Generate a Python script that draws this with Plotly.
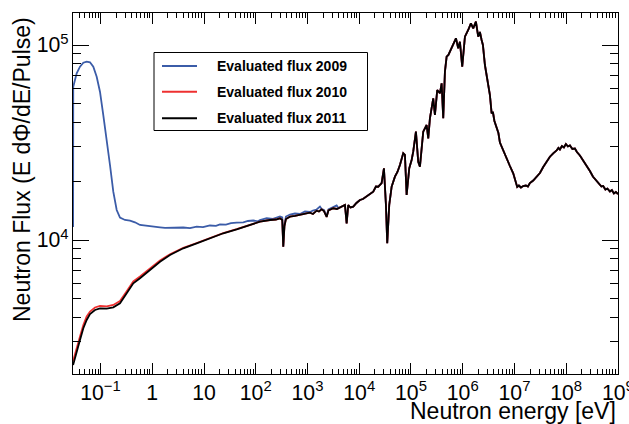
import plotly.graph_objects as go

# ---- Evaluated neutron flux (E dPhi/dE per pulse) vs. neutron energy [eV] ----

# 2009 evaluation, thermal/epithermal part
E_2009_LOW = [0.0295, 0.0297, 0.0346, 0.0401, 0.0465, 0.0540, 0.0626, 0.0725, 0.0843, 0.0976,
              0.1131, 0.1316, 0.1524, 0.1765, 0.2053, 0.2378, 0.2971, 0.371, 0.4634, 0.579,
              0.78, 1.033, 1.41, 1.762, 2.2, 2.873, 3.98, 5.355, 7.22, 9.55,
              13.04, 17.03, 20.35, 26.58, 33.2, 42.8, 57.4, 70.7, 89.6, 110.4]
F_2009_LOW = [11660, 61130, 71580, 77390, 81140, 82110, 81530, 77390, 68760, 57610,
              43750, 33220, 24245, 17690, 14250, 13016, 12664, 12560, 12325, 11940,
              11800, 11690, 11620, 11550, 11560, 11480, 11590, 11497, 11703, 11630,
              11870, 11825, 12036, 11995, 12196, 12265, 12325, 12515, 12590, 12470]

# 2009 evaluation, 100 eV - 4 keV
E_2009_MID = [120.6, 162.6, 215.1, 293.8, 325.4, 340.2, 358.9, 383.6, 458.4, 572.7,
              715.3, 893.6, 1116, 1276, 1504, 1742, 1878, 2081, 2347, 2542,
              3148, 3662, 3967]
F_2009_MID = [12664, 12924, 12845, 13200, 13050, 9239, 12080, 13200, 13510, 13670,
              13590, 14000, 13920, 14165, 14335, 14850, 14420, 14250, 13280, 14335,
              14680, 15030, 14590]

# 2010 evaluation, thermal/epithermal part
E_2010_LOW = [0.0295, 0.0346, 0.0401, 0.0465, 0.054, 0.0626, 0.0782, 0.0976, 0.1316, 0.1765,
              0.2378, 0.3204, 0.4297, 0.579, 0.903, 1.41, 2.2, 3.98, 7.22, 13.04,
              23.57, 42.8, 89.6]
F_2010_LOW = [2396, 2745, 3200, 3665, 4053, 4298, 4506, 4587, 4571, 4642,
              4866, 5457, 6128, 6499, 7142, 7851, 8455, 9120, 9652, 10230,
              10840, 11360, 12050]

# 2011 evaluation, thermal/epithermal part
E_2011_LOW = [0.0295, 0.0346, 0.0401, 0.0465, 0.054, 0.0626, 0.0782, 0.0976, 0.1316, 0.1765,
              0.2378, 0.3204, 0.4297, 0.579, 0.903, 1.41, 2.2, 3.98, 7.22, 13.04,
              23.57, 42.8, 89.6]
F_2011_LOW = [2286, 2624, 3071, 3526, 3888, 4174, 4375, 4464, 4443, 4517,
              4736, 5330, 5998, 6362, 7018, 7739, 8377, 9065, 9618, 10200,
              10825, 11347, 12036]

# 2010 and 2011 evaluations agree between 100 eV and 4 keV
E_1011_MID = [120.6, 188.3, 245.9, 293.8, 325.4, 340.2, 358.9, 383.6, 458.4, 572.7,
              715.3, 893.6, 1116, 1276, 1504, 1666, 1878, 2081, 2347, 2542,
              3148, 3710]
F_1011_MID = [12410, 12664, 12740, 12924, 12664, 9239, 11800, 12815, 13170, 13280,
              13437, 13670, 13804, 13590, 14135, 14000, 14368, 14080, 13120, 14165,
              14541, 14420]

# All three evaluations coincide above 4 keV
E_HIGH = [4240, 4846, 5297, 5714, 6135, 6766, 7662, 8837, 10325, 11800,
          13910, 16110, 18660, 21040, 23310, 27120, 30040, 32840, 34780, 38030,
          42310, 49000, 54760, 61220, 70900, 76460, 82480, 92600, 103000, 110600,
          124700, 138200, 149100, 172600, 200900, 215700, 232600, 269400, 290500, 321800,
          362800, 391400, 420400, 453400, 489000, 529700, 566200, 605300, 655900, 739600,
          819300, 883800, 978800, 1.104e6, 1.278e6, 1.441e6, 1.597e6, 1.8e6, 1.995e6, 2.151e6,
          2.32e6, 2.458e6, 2.688e6, 2.873e6, 3.113e6, 3.357e6, 3.622e6, 3.836e6, 4.1e6, 4.523e6,
          4.9e6, 5.239e6, 5.98e6, 7.06e6, 8.17e6, 9.47e6, 1.044e7, 1.131e7, 1.22e7, 1.334e7,
          1.477e7, 1.666e7, 1.821e7, 1.99e7, 2.305e7, 2.682e7, 3.107e7, 3.597e7, 4.183e7, 4.846e7,
          5.614e7, 6.53e7, 7.074e7, 7.56e7, 8.27e7, 9.04e7, 9.88e7, 1.08e8, 1.18e8, 1.319e8,
          1.474e8, 1.611e8, 1.842e8, 2.133e8, 2.481e8, 2.873e8, 3.28e8, 3.873e8, 4.29e8, 4.8e8,
          5.19e8, 5.73e8, 6.26e8, 7.0e8, 7.64e8, 8.36e8, 9.14e8, 1e9]
F_HIGH = [14713, 14940, 15118, 12180, 15118, 14680, 14818, 15480, 16037, 16230,
          16677, 17210, 17690, 18810, 18763, 19600, 23318, 15118, 9618, 15118,
          18763, 21116, 22320, 24245, 27838, 27285, 17013, 23318, 25720, 28370,
          35930, 25203, 23763, 35930, 38880, 33220, 42080, 53300, 43750, 58770,
          56530, 63620, 42080, 72970, 87100, 88870, 92390, 97660, 100800, 108200,
          96180, 103960, 77390, 110300, 119400, 129200, 121800, 131700, 110300, 116600,
          106100, 100000, 78950, 71000, 64830, 55400, 44640, 45330, 40770, 38110,
          35380, 31600, 28940, 26330, 23960, 21985, 20310, 18700, 19030, 18590,
          18920, 19030, 18810, 19600, 20190, 21045, 22060, 23680, 25270, 26740,
          27838, 28770, 29630, 29110, 30340, 29810, 31060, 30170, 30520, 29290,
          29450, 28260, 27130, 25570, 24110, 22580, 21160, 20080, 19490, 18810,
          18920, 18160, 18370, 17730, 18048, 17320, 17630, 17210]

SERIES = [
    ("Evaluated flux 2009", "#3b5ca8", E_2009_LOW + E_2009_MID + E_HIGH, F_2009_LOW + F_2009_MID + F_HIGH),
    ("Evaluated flux 2010", "#ee3030", E_2010_LOW + E_1011_MID + E_HIGH, F_2010_LOW + F_1011_MID + F_HIGH),
    ("Evaluated flux 2011", "#000000", E_2011_LOW + E_1011_MID + E_HIGH, F_2011_LOW + F_1011_MID + F_HIGH),
]
for _, _, e, f in SERIES:
    assert len(e) == len(f)

W, H = 629, 424
L, R, T, B = 73, 618, 13, 374          # frame in pixels
FONT = "Liberation Sans, Arial, Helvetica, sans-serif"


def px(x):
    return (x - L) / (R - L)


def py(y):
    return (B - y) / (B - T)


fig = go.Figure()
for name, color, e, f in SERIES:
    fig.add_trace(go.Scatter(x=e, y=f, mode="lines", name=name,
                             line=dict(color=color, width=1.8), showlegend=False))

axis_common = dict(
    type="log", dtick=1, showgrid=False, zeroline=False,
    showline=True, linecolor="black", linewidth=1, mirror="allticks",
    ticks="inside", tickcolor="black", tickwidth=1,
    tickfont=dict(family=FONT, size=17, color="black"),
    exponentformat="power", ticklabeloverflow="allow", automargin=False,
)
fig.update_xaxes(**axis_common, range=[-1.532, 9.0015], ticklen=11,
                 minor=dict(ticks="inside", ticklen=5, dtick="D1", tickcolor="black", showgrid=False))
fig.update_yaxes(**axis_common, range=[3.3128, 5.1641], ticklen=16,
                 minor=dict(ticks="inside", ticklen=8, dtick="D1", tickcolor="black", showgrid=False))

# Axis titles (right/top aligned)
annotations = [
    dict(text="Neutron energy [eV]", xref="paper", yref="paper", x=px(618), y=py(411),
         xanchor="right", yanchor="middle", showarrow=False,
         font=dict(family=FONT, size=23, color="black")),
    dict(text="Neutron Flux (E dΦ/dE/Pulse)", xref="paper", yref="paper", x=px(22.5), y=py(15),
         xanchor="center", yanchor="top", textangle=-90, showarrow=False,
         font=dict(family=FONT, size=23, color="black")),
]

# Legend box
shapes = [dict(type="rect", xref="paper", yref="paper", x0=px(154), x1=px(367.5),
               y0=py(130.5), y1=py(52.5), line=dict(color="black", width=1), fillcolor="white")]
for i, (name, color, _, _) in enumerate(SERIES):
    yy = [66, 91.7, 118.3][i]
    shapes.append(dict(type="line", xref="paper", yref="paper", x0=px(162), x1=px(197),
                       y0=py(yy), y1=py(yy), line=dict(color=color, width=2)))
    annotations.append(dict(text="<b>%s</b>" % name, xref="paper", yref="paper",
                            x=px(215), y=py(yy), xanchor="left", yanchor="middle",
                            showarrow=False, font=dict(family=FONT, size=14, color="black")))

fig.update_layout(
    width=W, height=H,
    margin=dict(l=L, r=W - R, t=T, b=H - B, autoexpand=False),
    paper_bgcolor="white", plot_bgcolor="white",
    annotations=annotations, shapes=shapes,
    showlegend=False,
)

fig.write_html("out.html")
